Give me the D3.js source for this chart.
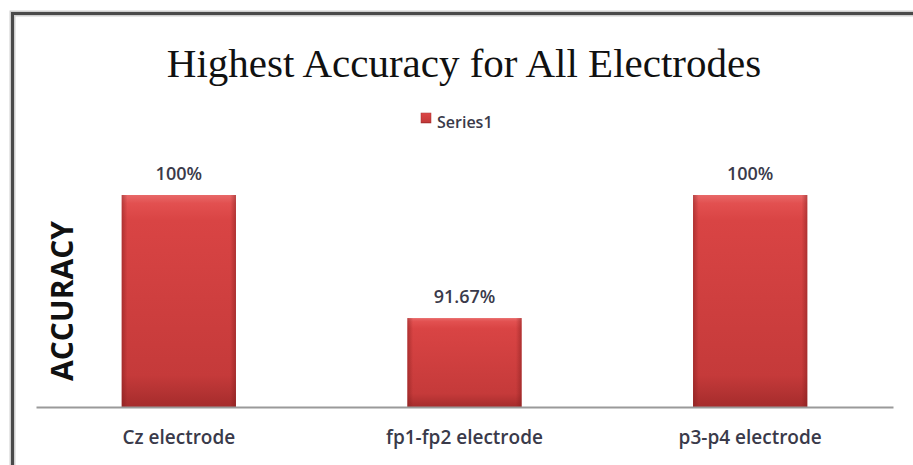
<!DOCTYPE html>
<html>
<head>
<meta charset="utf-8">
<script src="https://cdn.jsdelivr.net/npm/d3@7"></script>
<style>
  body { margin: 0; background: #fff; }
</style>
</head>
<body>
<div id="chart"></div>
<script>
// data
var categories = ["Cz electrode", "fp1-fp2 electrode", "p3-p4 electrode"];
var accuracy = [100, 91.67, 100];
var valueLabels = ["100%", "91.67%", "100%"];
var seriesName = "Series1";

var svgWidth = 913;
var svgHeight = 465;

var svg = d3.select("#chart")
  .append("svg")
  .attr("width", svgWidth)
  .attr("height", svgHeight);

var defs = svg.append("defs");

// bar shading, vertical
var gV = defs.append("linearGradient").attr("id", "barV")
  .attr("x1", 0).attr("y1", 0).attr("x2", 0).attr("y2", 1);
gV.append("stop").attr("offset", "0%").attr("stop-color", "#e86868");
gV.append("stop").attr("offset", "4%").attr("stop-color", "#e25050");
gV.append("stop").attr("offset", "12%").attr("stop-color", "#d94444");
gV.append("stop").attr("offset", "85%").attr("stop-color", "#c53a3a");
gV.append("stop").attr("offset", "100%").attr("stop-color", "#a52c2c");

// darker sides
var gH = defs.append("linearGradient").attr("id", "barH")
  .attr("x1", 0).attr("y1", 0).attr("x2", 1).attr("y2", 0);
gH.append("stop").attr("offset", "0%").attr("stop-color", "#7a1a1a").attr("stop-opacity", 0.45);
gH.append("stop").attr("offset", "5%").attr("stop-color", "#7a1a1a").attr("stop-opacity", 0);
gH.append("stop").attr("offset", "95%").attr("stop-color", "#7a1a1a").attr("stop-opacity", 0);
gH.append("stop").attr("offset", "100%").attr("stop-color", "#7a1a1a").attr("stop-opacity", 0.45);

// frame
var framePath = "M12.5," + svgHeight + " L12.5,13.5 L" + svgWidth + ",13.5";
svg.append("path")
  .attr("d", framePath)
  .attr("fill", "none")
  .attr("stroke", "#cfcfcf")
  .attr("stroke-width", 6);
svg.append("path")
  .attr("d", framePath)
  .attr("fill", "none")
  .attr("stroke", "#4a4a4a")
  .attr("stroke-width", 3);

// title
svg.append("text")
  .attr("x", 464)
  .attr("y", 77)
  .attr("text-anchor", "middle")
  .style("font-family", "'Liberation Serif', 'Times New Roman', serif")
  .style("font-size", "41px")
  .style("fill", "#111")
  .text("Highest Accuracy for All Electrodes");

// legend
var legend = svg.append("g").attr("transform", "translate(421,113)");
legend.append("rect")
  .attr("width", 10).attr("height", 10)
  .attr("fill", "url(#barV)")
  .attr("stroke", "#a52c2c").attr("stroke-width", 0.5);
legend.append("text")
  .attr("x", 16).attr("y", 15)
  .style("font-family", "'Open Sans', sans-serif")
  .style("font-size", "16px")
  .style("font-weight", "600")
  .style("fill", "#3a3a4a")
  .text(seriesName);

// scales
var plotLeft = 36, plotRight = 893, baseY = 407;

var xScale = d3.scaleBand()
  .domain(categories)
  .range([plotLeft, plotRight])
  .paddingInner(0.6)
  .paddingOuter(0.3);

var yScale = d3.scaleLinear()
  .domain([85.65, 100])
  .range([baseY, 195]);

var chartGroup = svg.append("g");

// bars
var bars = chartGroup.selectAll(".bar")
  .data(categories)
  .enter()
  .append("g")
  .attr("class", "bar");

bars.append("rect")
  .attr("x", d => xScale(d))
  .attr("y", (d, i) => yScale(accuracy[i]))
  .attr("width", xScale.bandwidth())
  .attr("height", (d, i) => baseY - yScale(accuracy[i]))
  .attr("fill", "url(#barV)");

bars.append("rect")
  .attr("x", d => xScale(d))
  .attr("y", (d, i) => yScale(accuracy[i]))
  .attr("width", xScale.bandwidth())
  .attr("height", (d, i) => baseY - yScale(accuracy[i]))
  .attr("fill", "url(#barH)");

// value labels
chartGroup.selectAll(".vlabel")
  .data(categories)
  .enter()
  .append("text")
  .attr("class", "vlabel")
  .attr("x", d => xScale(d) + xScale.bandwidth() / 2)
  .attr("y", (d, i) => yScale(accuracy[i]) - 15)
  .attr("text-anchor", "middle")
  .style("font-family", "'Open Sans', sans-serif")
  .style("font-size", "18px")
  .style("font-weight", "600")
  .style("fill", "#3a3a4a")
  .text((d, i) => valueLabels[i]);

// x axis
var bottomAxis = d3.axisBottom(xScale).tickSize(0).tickPadding(24);
var xAxis = chartGroup.append("g")
  .attr("transform", `translate(0, ${baseY})`)
  .call(bottomAxis);
xAxis.select(".domain")
  .attr("stroke", "#9a9a9a")
  .attr("stroke-width", 2);
xAxis.selectAll("text")
  .style("font-family", "'Open Sans', sans-serif")
  .style("font-size", "19px")
  .style("font-weight", "600")
  .style("fill", "#3a3a4a");

// y axis label
svg.append("text")
  .attr("transform", "translate(73, 301) rotate(-90)")
  .attr("text-anchor", "middle")
  .style("font-family", "'Open Sans', sans-serif")
  .style("font-size", "30px")
  .style("font-weight", "700")
  .style("fill", "#111")
  .text("ACCURACY");
</script>
</body>
</html>
